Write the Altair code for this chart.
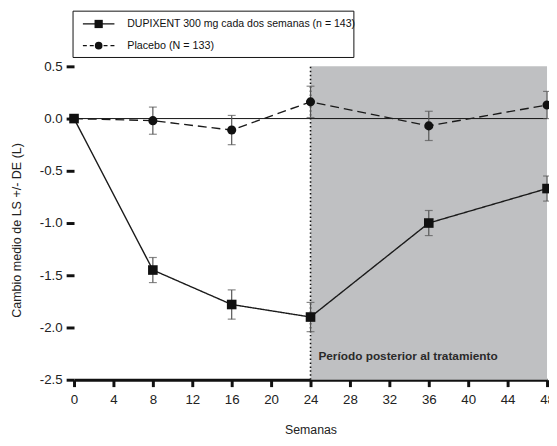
import altair as alt
import pandas as pd

# ---- data ----
weeks = [0, 8, 16, 24, 36, 48]
dup_mean = [0.0, -1.45, -1.78, -1.90, -1.00, -0.67]
dup_se = [0.0, 0.12, 0.14, 0.14, 0.12, 0.12]
pla_mean = [0.0, -0.02, -0.11, 0.16, -0.07, 0.13]
pla_se = [0.0, 0.13, 0.14, 0.15, 0.14, 0.13]

series_names = ["DUPIXENT 300 mg cada dos semanas (n = 143)", "Placebo (N = 133)"]
x_ticks = [0, 4, 8, 12, 16, 20, 24, 28, 32, 36, 40, 44, 48]
y_ticks = [-2.5, -2.0, -1.5, -1.0, -0.5, 0.0, 0.5]
post_period = [24, 48]
annotation = "Período posterior al tratamiento"

FONT = "Liberation Sans"

rows = []
for name, means, ses in [(series_names[0], dup_mean, dup_se), (series_names[1], pla_mean, pla_se)]:
    for w, m, s in zip(weeks, means, ses):
        rows.append({"serie": name, "semana": w, "media": m, "lo": m - s, "hi": m + s, "se": s})
df = pd.DataFrame(rows)

shade_df = pd.DataFrame({"semana": [post_period[0]], "x1": [post_period[1]],
                         "media": [y_ticks[0]], "y1": [y_ticks[-1]]})
zero_df = pd.DataFrame({"semana": [x_ticks[0]], "x1": [x_ticks[-1]], "media": [0.0]})
text_df = pd.DataFrame({"semana": [post_period[0] + 0.8], "media": [-2.27], "t": [annotation]})
one = pd.DataFrame({"k": [0]})

xscale = alt.Scale(domain=[x_ticks[0], x_ticks[-1]], nice=False, zero=False)
yscale = alt.Scale(domain=[y_ticks[0], y_ticks[-1]], nice=False, zero=False)

x_axis = alt.Axis(values=x_ticks, title="Semanas", grid=False,
                  domain=True, domainWidth=3, domainColor="#111",
                  ticks=True, tickSize=7, tickWidth=3, tickColor="#111",
                  labelFont=FONT, labelFontSize=13.5, labelColor="#222", labelPadding=6,
                  labelOverlap=False,
                  titleFont=FONT, titleFontSize=12.5, titleFontWeight="normal",
                  titleColor="#222", titlePadding=18, labelFlush=False)
y_axis = alt.Axis(values=y_ticks, title="Cambio medio de LS +/- DE (L)", grid=False,
                  domain=False, ticks=True, tickSize=8, tickWidth=3, tickColor="#111",
                  labelExpr="datum.value < 0 ? '-' + format(-datum.value, '.1f') : format(datum.value, '.1f')",
                  labelFont=FONT, labelFontSize=13.5, labelColor="#222", labelPadding=4,
                  labelOverlap=False,
                  titleFont=FONT, titleFontSize=12.7, titleFontWeight="normal",
                  titleColor="#222", titlePadding=16, titleY=166)

X = alt.X("semana:Q", scale=xscale, axis=x_axis)
Y = alt.Y("media:Q", scale=yscale, axis=y_axis)

base = alt.Chart(df)

shade = alt.Chart(shade_df).mark_rect(color="#bfc0c2").encode(
    x=X, x2="x1:Q", y=Y, y2="y1:Q")

vline = alt.Chart(shade_df).mark_rule(color="#111", strokeWidth=1.6, strokeDash=[1.5, 2.5]).encode(
    x=X, y=Y, y2="y1:Q")

zero_line = alt.Chart(zero_df).mark_rule(color="#111", strokeWidth=1).encode(
    x=X, x2="x1:Q", y=Y)

eb = base.transform_filter("datum.se > 0")
err_rule = eb.mark_rule(color="#555", strokeWidth=1.2).encode(
    x=X, y=alt.Y("lo:Q", scale=yscale, axis=y_axis), y2="hi:Q")
err_top = eb.mark_tick(color="#555", orient="horizontal", size=8, thickness=1.2).encode(
    x=X, y=alt.Y("hi:Q", scale=yscale, axis=y_axis))
err_bot = eb.mark_tick(color="#555", orient="horizontal", size=8, thickness=1.2).encode(
    x=X, y=alt.Y("lo:Q", scale=yscale, axis=y_axis))

lines = base.mark_line(color="#1a1a1a", strokeWidth=1.4).encode(
    x=X, y=Y,
    detail="serie:N",
    strokeDash=alt.StrokeDash("serie:N", scale=alt.Scale(domain=series_names, range=[[1, 0], [9, 5]]),
                              legend=None))

pts_dup = base.transform_filter(alt.datum.serie == series_names[0]).mark_point(
    filled=True, color="#111", opacity=1, shape="square", size=95).encode(x=X, y=Y)
pts_pla = base.transform_filter(alt.datum.serie == series_names[1]).mark_point(
    filled=True, color="#111", opacity=1, shape="circle", size=85).encode(x=X, y=Y)

text = alt.Chart(text_df).mark_text(align="left", baseline="middle", font=FONT,
                                    fontSize=12, fontWeight="bold", color="#2a2a2a").encode(
    x=X, y=Y, text="t:N")

# ---- legend box (drawn in pixels relative to the plot area) ----
leg = alt.Chart(one)
leg_box = leg.mark_rect(filled=False, stroke="#111", strokeWidth=1).encode(
    x=alt.value(-1), x2=alt.value(284), y=alt.value(-56), y2=alt.value(-9))
leg_line1 = leg.mark_rule(color="#111", strokeWidth=1.3).encode(
    x=alt.value(9), x2=alt.value(41), y=alt.value(-43))
leg_pt1 = leg.mark_point(filled=True, color="#111", opacity=1, shape="square", size=70).encode(
    x=alt.value(25), y=alt.value(-43))
leg_line2 = leg.mark_rule(color="#111", strokeWidth=1.3, strokeDash=[4, 3]).encode(
    x=alt.value(9), x2=alt.value(42), y=alt.value(-21))
leg_pt2 = leg.mark_point(filled=True, color="#111", opacity=1, shape="circle", size=60).encode(
    x=alt.value(25), y=alt.value(-21))
leg_txt1 = leg.mark_text(align="left", baseline="middle", font=FONT, fontSize=10.7,
                         color="#111").encode(
    x=alt.value(54), y=alt.value(-43), text=alt.value(series_names[0]))
leg_txt2 = leg.mark_text(align="left", baseline="middle", font=FONT, fontSize=10.9,
                         color="#111").encode(
    x=alt.value(54), y=alt.value(-21), text=alt.value(series_names[1]))

chart = alt.layer(shade, zero_line, vline, err_rule, err_top, err_bot, lines, pts_dup, pts_pla,
                  text, leg_box, leg_line1, leg_pt1, leg_line2, leg_pt2, leg_txt1, leg_txt2
                  ).properties(
    width=480, height=318,
    autosize=alt.AutoSizeParams(type="none"),
    padding={"left": 67, "top": 56, "right": 2, "bottom": 60},
).configure_view(stroke=None)

chart.save("out.html", embed_options={"renderer": "svg", "actions": False})
